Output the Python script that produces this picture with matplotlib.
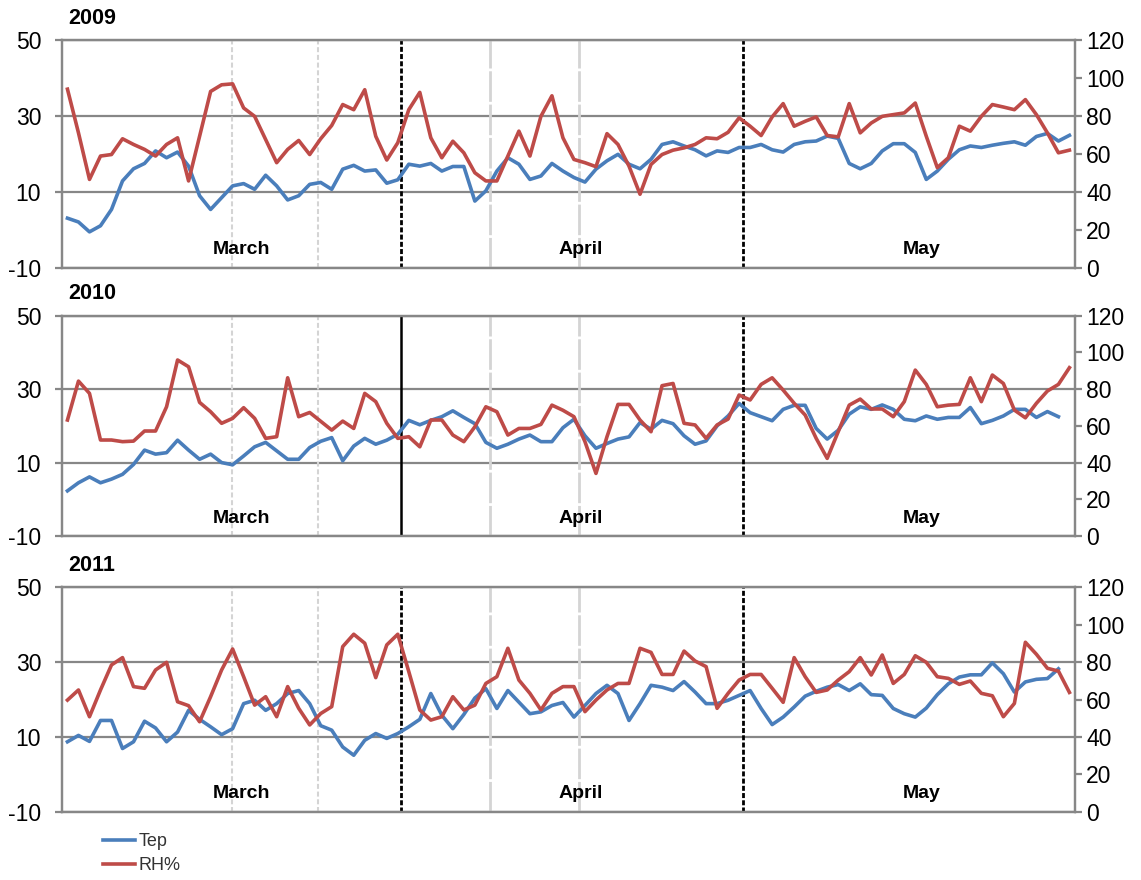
import matplotlib
matplotlib.use("Agg")
import matplotlib.pyplot as plt
import numpy as np

plt.rcParams["font.family"] = ["Liberation Sans", "DejaVu Sans"]
plt.rcParams["axes.unicode_minus"] = False

# daily values, 1 March - 31 May (day index 0..91)
years = ["2009", "2010", "2011"]
months = ["March", "April", "May"]

tep_2009 = [3.1, 2.1, -0.5, 1.1, 5.4, 12.9, 16.1, 17.5, 20.8, 19.0, 20.5, 16.8, 9.0, 5.4,
            8.5, 11.6, 12.2, 10.7, 14.4, 11.6, 7.9, 9.0, 12.0, 12.5, 10.7, 16.0, 17.0, 15.5,
            15.8, 12.3, 13.2, 17.3, 16.8, 17.5, 15.5, 16.7, 16.7, 7.6, 10.3, 15.5, 19.0, 17.3,
            13.3, 14.2, 17.5, 15.5, 13.8, 12.6, 16.0, 18.2, 19.9, 17.3, 16.1, 18.6, 22.5, 23.2,
            22.1, 21.1, 19.5, 20.8, 20.4, 21.7, 21.7, 22.5, 21.1, 20.5, 22.5, 23.2, 23.4, 24.7,
            24.1, 17.5, 16.1, 17.5, 20.8, 22.7, 22.7, 20.4, 13.3, 15.5, 18.6, 21.1, 22.1, 21.7,
            22.3, 22.8, 23.2, 22.3, 24.6, 25.4, 23.4, 24.9]
rh_2009 = [94.1, 71.1, 46.6, 58.9, 59.7, 68.0, 65.0, 62.4, 58.9, 65.0, 68.5, 45.8, 69.3, 92.9,
           96.4, 96.9, 84.2, 79.8, 67.6, 55.4, 62.4, 67.1, 59.7, 68.0, 75.0, 86.0, 83.3, 93.8,
           69.3, 56.8, 65.9, 83.3, 92.4, 68.5, 58.0, 66.7, 60.6, 50.1, 45.8, 45.8, 58.9, 72.0,
           58.9, 79.8, 90.6, 68.5, 57.1, 55.4, 53.3, 70.7, 65.0, 53.6, 38.8, 54.5, 59.7, 62.0,
           63.2, 65.0, 68.5, 68.0, 71.4, 79.0, 74.6, 69.7, 79.5, 86.5, 74.6, 77.2, 79.5, 69.7,
           69.0, 86.5, 71.1, 76.3, 79.8, 80.7, 81.6, 86.8, 69.3, 52.8, 58.0, 74.6, 72.0, 79.8,
           86.0, 84.7, 83.3, 88.6, 80.7, 71.1, 60.6, 62.0]

tep_2010 = [2.3, 4.5, 6.1, 4.5, 5.5, 6.8, 9.5, 13.4, 12.3, 12.7, 16.1, 13.4, 10.9, 12.3,
            10.0, 9.4, 11.8, 14.3, 15.5, 13.2, 10.9, 10.9, 14.1, 15.8, 16.8, 10.5, 14.5, 16.6,
            15.0, 16.1, 17.7, 21.5, 20.3, 21.5, 22.5, 24.1, 22.3, 20.6, 15.5, 13.9, 15.0, 16.4,
            17.5, 15.7, 15.7, 19.5, 21.8, 17.3, 13.9, 15.2, 16.4, 17.0, 20.9, 19.1, 21.5, 20.6,
            17.3, 15.0, 15.9, 20.0, 22.7, 26.1, 23.6, 22.5, 21.4, 24.5, 25.6, 25.6, 19.3, 16.4,
            18.8, 23.2, 25.2, 24.5, 25.7, 24.5, 21.8, 21.4, 22.7, 21.8, 22.3, 22.3, 25.0, 20.6,
            21.5, 22.7, 24.5, 24.5, 22.3, 23.9, 22.5]
rh_2010 = [63.2, 84.4, 77.7, 52.3, 52.3, 51.4, 51.7, 57.2, 57.2, 70.4, 95.9, 92.2, 72.8, 67.7,
           61.4, 64.1, 69.9, 64.1, 53.2, 54.1, 86.2, 65.0, 67.3, 62.5, 57.7, 62.6, 58.6, 77.7,
           73.2, 61.4, 53.2, 54.1, 48.6, 63.2, 63.2, 55.0, 51.4, 59.5, 70.4, 67.7, 55.0, 58.6,
           58.6, 60.8, 71.3, 68.5, 65.0, 51.4, 34.1, 54.1, 71.7, 71.7, 63.2, 56.8, 81.9, 83.1,
           61.4, 60.5, 53.2, 60.5, 63.7, 76.8, 74.1, 82.6, 86.2, 79.5, 72.3, 65.9, 53.2, 42.3,
           56.8, 71.3, 74.6, 69.2, 69.2, 65.0, 73.2, 90.4, 82.6, 70.4, 71.3, 71.7, 86.2, 73.2,
           87.7, 83.1, 68.6, 64.4, 72.3, 79.0, 82.6, 91.7]

tep_2011 = [8.7, 10.4, 8.8, 14.4, 14.4, 6.9, 8.7, 14.2, 12.4, 8.7, 11.3, 17.1, 14.7, 12.7,
            10.6, 12.2, 18.9, 19.8, 17.1, 18.9, 21.6, 22.4, 18.9, 13.0, 11.8, 7.3, 5.1, 9.1,
            10.9, 9.6, 10.9, 12.7, 14.7, 21.6, 15.8, 12.2, 16.0, 20.4, 22.9, 17.6, 22.4, 19.3,
            16.2, 16.7, 18.4, 19.2, 15.3, 18.4, 21.6, 23.8, 21.6, 14.4, 18.9, 23.8, 23.3, 22.4,
            24.8, 22.0, 18.9, 18.9, 19.8, 21.1, 22.4, 17.6, 13.3, 15.3, 18.0, 20.9, 22.2, 23.3,
            24.0, 22.4, 24.2, 21.3, 21.1, 17.6, 16.2, 15.3, 17.7, 21.3, 24.2, 26.0, 26.6, 26.6,
            29.8, 26.9, 22.0, 24.7, 25.4, 25.6, 28.2]
rh_2011 = [59.7, 65.1, 50.8, 65.1, 78.5, 82.4, 66.9, 66.0, 75.8, 79.9, 58.8, 56.7, 48.1, 61.5,
           75.8, 87.0, 72.2, 57.0, 61.5, 50.8, 66.9, 55.3, 46.4, 52.5, 56.2, 88.3, 94.9, 90.1,
           71.7, 89.2, 94.9, 74.9, 54.4, 49.0, 50.8, 61.5, 54.4, 57.0, 68.6, 72.2, 87.4, 70.4,
           63.3, 54.4, 63.3, 66.9, 66.9, 53.5, 59.7, 65.1, 68.6, 68.6, 87.4, 85.2, 73.4, 73.4,
           85.9, 80.6, 77.6, 55.3, 63.3, 70.4, 73.4, 73.4, 66.0, 58.5, 82.4, 72.2, 63.8, 65.1,
           70.4, 74.9, 82.4, 73.1, 83.8, 68.6, 73.4, 83.4, 79.9, 72.2, 71.3, 68.1, 69.9, 63.3,
           62.0, 50.8, 57.9, 90.6, 84.2, 76.7, 75.2, 63.8]

tep_all = [tep_2009, tep_2010, tep_2011]
rh_all = [rh_2009, rh_2010, rh_2011]

BLUE = "#4A7EBB"
RED = "#BE4B48"
GRID = "#878787"

# panel boxes [left, bottom, width, height] in figure fractions
boxes = [[0.0543, 0.6955, 0.8878, 0.2591],
         [0.0543, 0.3909, 0.8878, 0.2503],
         [0.0543, 0.0776, 0.8878, 0.2550]]
year_y = [18, 293, 565]

month_x = [15.8, 46.6, 77.6]
sub_march = [14.9, 22.75]
sub_april = [38.4, 46.5]
month_bounds = [30.3, 61.35]

fig = plt.figure(figsize=(11.41, 8.8), dpi=100)

for k, (year, box) in enumerate(zip(years, boxes)):
    ax = fig.add_axes(box)
    tep = tep_all[k]
    rh = rh_all[k]

    ax.set_xlim(-0.5, 91.5)
    ax.set_ylim(-10, 50)
    ax.set_yticks([-10, 10, 30, 50])
    ax.set_xticks([])
    ax.grid(axis="y", color=GRID, lw=1.6)
    ax.set_axisbelow(True)
    for sp in ax.spines.values():
        sp.set_color(GRID)
        sp.set_linewidth(1.6)
    ax.tick_params(axis="y", length=5, width=1.6, color=GRID, labelsize=16.5, pad=10)

    for x in sub_march:
        ax.axvline(x, color="#d4d4d4", lw=1.5, ls=(0, (2.4, 1.3)), zorder=1)
    for x in sub_april:
        ax.axvline(x, color="#d4d4d4", lw=2.0, ls=(0, (11, 1)), zorder=1)
    for j, x in enumerate(month_bounds):
        if k == 1 and j == 0:
            ax.axvline(x, color="black", lw=1.8, zorder=2)
        else:
            ax.axvline(x, color="black", lw=2.0, ls=(0, (1.8, 0.8)), zorder=2)

    l_t, = ax.plot(np.arange(len(tep)), tep, color=BLUE, lw=2.6, zorder=3,
                   solid_joinstyle="round")

    for name, mx in zip(months, month_x):
        ax.text(mx, 0.08, name, transform=ax.get_xaxis_transform(),
                ha="center", va="center", fontsize=14, fontweight="bold")

    ax2 = ax.twinx()
    ax2.set_ylim(0, 120)
    ax2.set_yticks(range(0, 121, 20))
    for sp in ax2.spines.values():
        sp.set_color(GRID)
        sp.set_linewidth(1.6)
    ax2.tick_params(axis="y", length=5, width=1.6, color=GRID, labelsize=16.5, pad=3)
    l_rh, = ax2.plot(np.arange(len(rh)), rh, color=RED, lw=2.6, zorder=3,
                     solid_joinstyle="round")

    fig.text(68 / 1141, 1 - year_y[k] / 880, year, fontsize=15.5,
             fontweight="bold", va="center", ha="left")

fig.legend(handles=[l_t, l_rh], labels=["Tep", "RH%"], loc="upper left",
           bbox_to_anchor=(103 / 1141, 1 - 833 / 880), frameon=False, fontsize=13,
           handlelength=1.75, handletextpad=0.2, labelspacing=0.4,
           borderpad=0, borderaxespad=0, labelcolor="#333333")

fig.savefig("out.png", dpi=100)
